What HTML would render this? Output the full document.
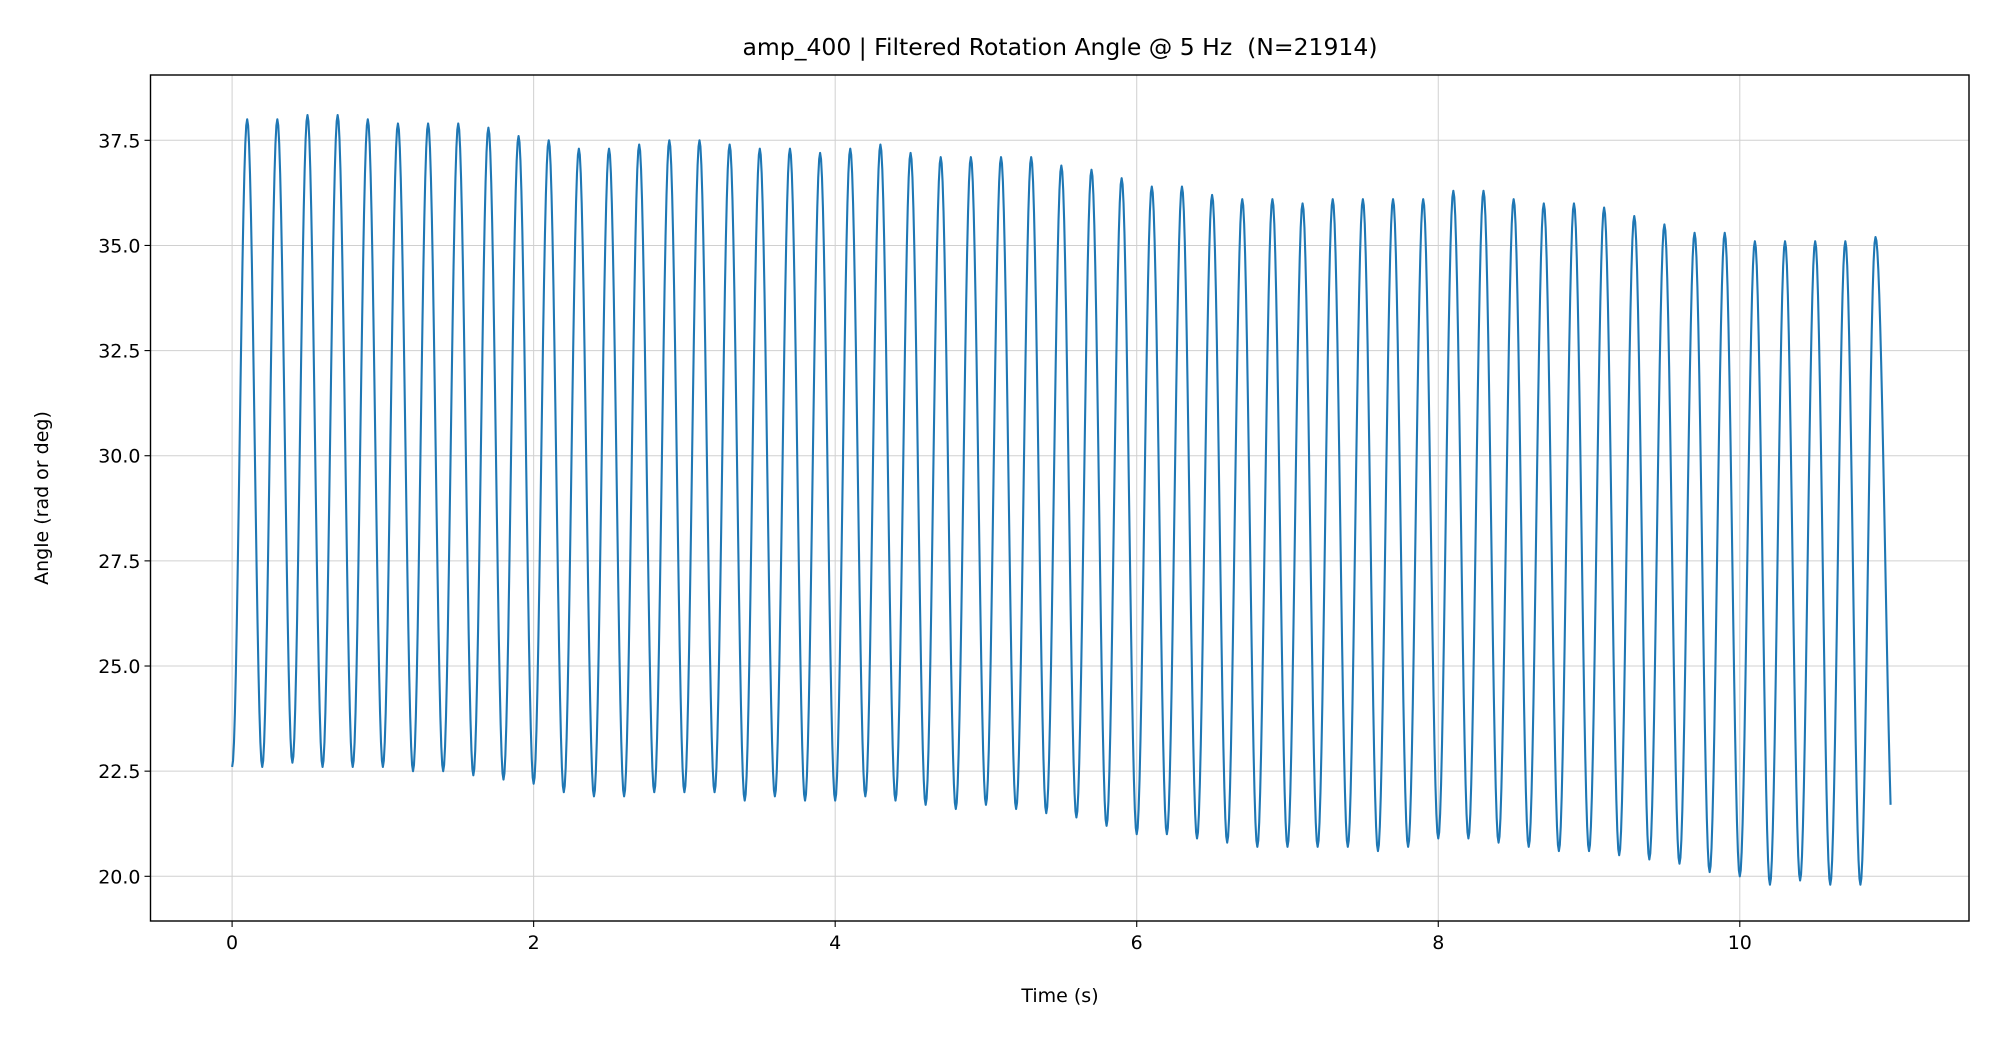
<!DOCTYPE html>
<html><head><meta charset="utf-8"><style>
html,body{margin:0;padding:0;background:#fff;}
svg{display:block;font-family:"DejaVu Sans","Liberation Sans",sans-serif;}
</style></head><body>
<svg id="chart" width="2000" height="1040" viewBox="0 0 2000 1040" xmlns="http://www.w3.org/2000/svg">
<rect width="2000" height="1040" fill="#fff"/>
<g id="grid"></g>
<g id="plot"></g>
<g id="axes"></g>
<text x="1060" y="55" font-size="23.5" text-anchor="middle" fill="#000">amp_400 | Filtered Rotation Angle @ 5 Hz&#160; (N=21914)</text>
<text x="1060" y="1002" font-size="19" text-anchor="middle" fill="#000">Time (s)</text>
<text transform="translate(48,498) rotate(-90)" font-size="19" text-anchor="middle" fill="#000">Angle (rad or deg)</text>
</svg>
<script>
const xTicks = [0, 2, 4, 6, 8, 10];
const yTicks = [20.0, 22.5, 25.0, 27.5, 30.0, 32.5, 35.0, 37.5];
const startValue = 22.6;
const endTime = 11.0;
const endValue = 21.7;
const peakTimes0 = 0.1, cycle = 0.2;
const peaks = [38.0,38.0,38.1,38.1,38.0,37.9,37.9,37.9,37.8,37.6,
 37.5,37.3,37.3,37.4,37.5,37.5,37.4,37.3,37.3,37.2,
 37.3,37.4,37.2,37.1,37.1,37.1,37.1,36.9,36.8,36.6,
 36.4,36.4,36.2,36.1,36.1,36.0,36.1,36.1,36.1,36.1,
 36.3,36.3,36.1,36.0,36.0,35.9,35.7,35.5,35.3,35.3,
 35.1,35.1,35.1,35.1,35.2];
const troughs = [22.6,22.7,22.6,22.6,22.6,22.5,22.5,22.4,22.3,22.2,
 22.0,21.9,21.9,22.0,22.0,22.0,21.8,21.9,21.8,21.8,
 21.9,21.8,21.7,21.6,21.7,21.6,21.5,21.4,21.2,21.0,
 21.0,20.9,20.8,20.7,20.7,20.7,20.7,20.6,20.7,20.9,
 20.9,20.8,20.7,20.6,20.6,20.5,20.4,20.3,20.1,20.0,
 19.8,19.9,19.8,19.8];

const L=150.5,R=1969,T=75,B=921;
const xS=t=>232.1+(t-0)*(1739.8-232.1)/10;
const yS=v=>876.3+(v-20)*(140.3-876.3)/17.5;
const NS="http://www.w3.org/2000/svg";
function mk(tag,attrs,parent){const e=document.createElementNS(NS,tag);for(const k in attrs)e.setAttribute(k,attrs[k]);parent.appendChild(e);return e;}
const grid=document.getElementById('grid'),axes=document.getElementById('axes'),plot=document.getElementById('plot');

xTicks.forEach(t=>{
  const x=xS(t);
  const g=mk('line',{x1:x,x2:x,y1:T,y2:B,stroke:'#d0d0d0','stroke-width':1},grid);
  
  
  const tk=mk('line',{x1:x,x2:x,y1:B,y2:B+6,stroke:'#000','stroke-width':1.1},axes);
  
  
  const tx=mk('text',{x:x,y:B+28,'font-size':19,'text-anchor':'middle',fill:'#000'},axes);
  tx.textContent=String(t);
  
  
});
yTicks.forEach(v=>{
  const y=yS(v);
  const g=mk('line',{x1:L,x2:R,y1:y,y2:y,stroke:'#d0d0d0','stroke-width':1},grid);
  
  
  const tk=mk('line',{x1:L-6,x2:L,y1:y,y2:y,stroke:'#000','stroke-width':1.1},axes);
  
  
  const tx=mk('text',{x:L-10,y:y+7,'font-size':19,'text-anchor':'end',fill:'#000'},axes);
  tx.textContent=v.toFixed(1);
  
  
});
const frame=mk('rect',{x:L,y:T,width:R-L,height:B-T,fill:'none',stroke:'#000','stroke-width':1.4},axes);



const ext=[[0,startValue]];
for(let i=0;i<peaks.length;i++){
  ext.push([peakTimes0+cycle*i,peaks[i]]);
  if(i<troughs.length) ext.push([cycle*(i+1),troughs[i]]);
}
ext.push([endTime,endValue]);
let d='';
for(let i=0;i<ext.length-1;i++){
  const [t0,v0]=ext[i],[t1,v1]=ext[i+1];
  let last=(i===ext.length-2);
  let fullV1=v1, frac=1;
  if(last){
    fullV1=19.8; frac=Math.acos(1-2*(v0-v1)/(v0-fullV1))/Math.PI;
  }
  const n=16;
  for(let k=0;k<=n;k++){
    if(i>0&&k===0)continue;
    const u=k/n*frac;
    const v=v0+(fullV1-v0)*(1-Math.cos(Math.PI*u))/2;
    const t=t0+(t1-t0)*k/n;
    d+=(d?'L':'M')+xS(t).toFixed(2)+','+yS(v).toFixed(2);
  }
}
const p=mk('path',{d:d,fill:'none',stroke:'#1f77b4','stroke-width':2.1,'stroke-linejoin':'round'},plot);


</script>
</body></html>
